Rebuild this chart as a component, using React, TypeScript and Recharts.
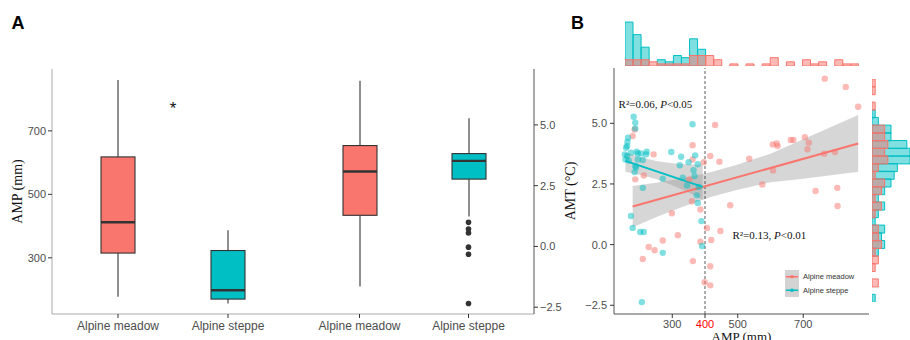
import {
  ComposedChart,
  BarChart,
  Bar,
  Line,
  Area,
  Scatter,
  XAxis,
  YAxis,
  ReferenceLine,
  ReferenceDot,
  Legend,
} from 'recharts'

const groups = ['Alpine meadow', 'Alpine steppe']
const groupColors = ['#F8766D', '#00BFC4']

// panel A, AMP (mm) box stats per group
const ampMin = [177, 156]
const ampQ1 = [315, 170]
const ampMedian = [412, 198]
const ampQ3 = [618, 323]
const ampMax = [860, 387]
const ampBoxTicks = [300, 500, 700]

// panel A, AMT (°C) box stats per group
const amtMin = [-1.65, 1.23]
const amtQ1 = [1.28, 2.77]
const amtMedian = [3.08, 3.52]
const amtQ3 = [4.15, 3.82]
const amtMax = [6.82, 5.27]
const amtOutliers = [[], [0.99, 0.72, 0.55, -0.03, -0.32, -2.35]]
const amtTicks = [-2.5, 0, 2.5, 5]

// panel B, sites
const meadowAmp = [185, 179, 243, 213, 187, 362, 431, 362, 416, 396, 444, 352, 360, 386, 477, 299, 406, 447, 317, 271, 228, 246, 386, 419, 210, 363, 416, 399, 416, 766, 830, 868, 607, 619, 622, 662, 670, 705, 717, 713, 764, 797, 535, 608, 575, 738, 804, 805]
const meadowAmt = [4.75, 4.48, 3.72, 2.85, 2.69, 4.1, 4.93, 3.51, 3.65, 3.4, 3.42, 2.69, 1.79, 1.45, 1.62, 1.29, 0.69, 0.56, 0.39, 0.17, -0.1, -0.23, 0.12, 0.19, -0.59, -0.68, -0.89, -1.55, -1.68, 6.84, 6.5, 5.68, 4.13, 4.17, 4.06, 4.31, 4.31, 4.43, 4.2, 3.93, 3.75, 3.82, 3.54, 3.06, 2.48, 2.21, 2.34, 1.59]
const steppeAmp = [182, 187, 187, 165, 162, 163, 162, 157, 167, 195, 205, 220, 195, 210, 187, 185, 210, 297, 327, 362, 350, 370, 378, 323, 365, 368, 332, 271, 345, 381, 375, 378, 389, 391, 271, 174, 179, 202, 213, 207, 155, 159, 174, 191, 222, 189]
const steppeAmt = [5.27, 5.03, 4.79, 4.41, 4.06, 4.23, 3.65, 3.51, 3.47, 3.76, 3.76, 3.72, 3.51, 3.49, 3.24, 2.99, 2.34, 3.82, 3.62, 4.96, 3.4, 3.68, 3.31, 3.27, 3.07, 2.83, 2.76, 2.71, 2.44, 2.38, 2.03, 1.72, 0.97, -0.06, -0.34, 1.18, 0.69, 0.52, 0.52, -2.37, 3.72, 3.99, 3.79, 3.83, 3.83, 3.18]

// fitted lines and confidence bands
const meadowFitAmp = [179, 868]
const meadowFitAmt = [1.57, 4.17]
const steppeFitAmp = [157, 393]
const steppeFitAmt = [3.45, 2.38]
const meadowBandAmp = [179, 250, 330, 420, 500, 600, 700, 868]
const meadowBandLow = [0.72, 1.13, 1.55, 1.97, 2.26, 2.57, 2.72, 3.0]
const meadowBandHigh = [2.42, 2.55, 2.73, 2.99, 3.3, 3.75, 4.34, 5.34]
const steppeBandAmp = [157, 200, 250, 300, 350, 393]
const steppeBandLow = [3.0, 2.88, 2.7, 2.45, 2.15, 1.85]
const steppeBandHigh = [3.8, 3.62, 3.45, 3.35, 3.3, 3.3]

const ampTicks = [300, 400, 500, 700]
const ampThreshold = 400

// marginal histograms, counts per bin (AMP left to right, AMT top to bottom)
const meadowAmpCounts = [3, 3, 3, 2, 1, 1, 1, 1, 5, 5, 5, 3, 0, 1, 0, 1, 0, 1, 4, 0, 2, 0, 3, 1, 2, 0, 3, 1, 1]
const steppeAmpCounts = [21, 15, 9, 0, 3, 2, 5, 4, 13, 8, 0, 0, 0, 0, 0, 0, 0, 0, 0, 0, 0, 0, 0, 0, 0, 0, 0, 0, 0]
const meadowAmtCounts = [1, 1, 0, 1, 0, 0, 4, 4, 5, 4, 5, 2, 1, 4, 3, 1, 3, 1, 0, 2, 2, 3, 1, 2, 1, 0, 2, 0, 0]
const steppeAmtCounts = [0, 0, 0, 0, 1, 2, 6, 6, 11, 12, 12, 8, 7, 6, 4, 2, 4, 2, 1, 4, 3, 4, 2, 0, 0, 0, 0, 0, 1]

const SANS = '"Liberation Sans", Arial, sans-serif'
const SERIF = '"Liberation Serif", "Times New Roman", serif'
const numTick = { fill: '#4d4d4d', fontSize: 11, fontFamily: SANS }
const catTick = { fill: '#4d4d4d', fontSize: 12, fontFamily: SANS }
const titleProps = { fill: '#111', fontSize: 14, fontFamily: SERIF }

const fmt1 = (v: number) => v.toFixed(1).replace('-', '\u2212')

function boxRows(min: number[], q1: number[], med: number[], q3: number[], max: number[], outliers?: number[][]) {
  return groups.map((name, i) => {
    const row: Record<string, unknown> = {
      name,
      whisker: [min[i], max[i]],
      box: [q1[i], q3[i]],
      median: [med[i], med[i]],
    }
    outliers?.[i]?.forEach((v, k) => (row['o' + k] = v))
    return row
  })
}

function WhiskerShape(p: any) {
  const cx = p.x + p.width / 2
  return <line x1={cx} x2={cx} y1={p.y} y2={p.y + p.height} stroke="#333" strokeWidth={1.1} />
}

function BoxShape(p: any) {
  const y = Math.min(p.y, p.y + p.height)
  const color = groupColors[groups.indexOf(p.payload.name)]
  return <rect x={p.x} y={y} width={p.width} height={Math.abs(p.height)} fill={color} stroke="#333" strokeWidth={1.1} />
}

function MedianShape(p: any) {
  return <line x1={p.x} x2={p.x + p.width} y1={p.y} y2={p.y} stroke="#333" strokeWidth={2.4} />
}

type BoxPanelProps = {
  rows: Record<string, unknown>[]
  side: 'left' | 'right'
  width: number
  domain: [number, number]
  ticks: number[]
  format?: (v: number) => string
  title?: string
  outlierKeys?: string[]
  star?: number
}

function BoxPanel({ rows, side, width, domain, ticks, format, title, outlierKeys = [], star }: BoxPanelProps) {
  const isLeft = side === 'left'
  const pad = { left: 11, right: 11 }
  return (
    <ComposedChart width={width} height={280} data={rows} margin={{ top: 9, right: isLeft ? 6 : 0, left: 0, bottom: 0 }}>
      <XAxis
        xAxisId="main"
        dataKey="name"
        padding={pad}
        height={26}
        tick={catTick}
        tickSize={4}
        tickMargin={3}
        tickLine={{ stroke: '#333' }}
        axisLine={{ stroke: '#aaa' }}
      />
      <XAxis xAxisId="box" dataKey="name" padding={pad} height={0} hide />
      <XAxis xAxisId="mid" dataKey="name" padding={pad} height={0} hide />
      <XAxis xAxisId="top" orientation="top" type="number" domain={[0, 1]} height={0} tick={false} tickLine={false} axisLine={{ stroke: '#555' }} />
      <YAxis
        yAxisId="v"
        orientation={side}
        width={isLeft ? 52 : 30}
        domain={domain}
        allowDataOverflow
        ticks={ticks}
        tickFormatter={format}
        tick={numTick}
        tickSize={4}
        tickMargin={2}
        tickLine={{ stroke: '#333' }}
        axisLine={{ stroke: isLeft ? '#aaa' : '#555' }}
        label={title ? { value: title, angle: -90, position: 'insideLeft', offset: 17.5, textAnchor: 'middle', ...titleProps } : undefined}
      />
      <YAxis
        yAxisId="edge"
        orientation={isLeft ? 'right' : 'left'}
        width={0}
        domain={[0, 1]}
        tick={false}
        tickLine={false}
        axisLine={isLeft ? { stroke: '#444', strokeDasharray: '2 2' } : false}
      />
      <Bar xAxisId="main" yAxisId="v" dataKey="whisker" barSize={34} shape={WhiskerShape} isAnimationActive={false} />
      <Bar xAxisId="box" yAxisId="v" dataKey="box" barSize={34} shape={BoxShape} isAnimationActive={false} />
      <Bar xAxisId="mid" yAxisId="v" dataKey="median" barSize={34} shape={MedianShape} isAnimationActive={false} />
      {outlierKeys.map((k) => (
        <Line
          key={k}
          xAxisId="main"
          yAxisId="v"
          dataKey={k}
          stroke="none"
          dot={{ r: 2.8, fill: '#333', stroke: 'none' }}
          activeDot={false}
          isAnimationActive={false}
        />
      ))}
      {star !== undefined && (
        <ReferenceLine
          xAxisId="main"
          yAxisId="v"
          y={star}
          stroke="none"
          label={{ value: '*', position: 'center', fontSize: 17, fill: '#111', fontFamily: SANS }}
        />
      )}
    </ComposedChart>
  )
}

function ampTick(p: any) {
  const v = p.payload.value
  return (
    <text x={p.x} y={p.y} dy="0.71em" textAnchor="middle" fontSize={11} fontFamily={SANS} fill={v === ampThreshold ? '#ff0000' : '#4d4d4d'}>
      {v}
    </text>
  )
}

function fitNote(r2: string, p: string) {
  return (props: any) => {
    const vb = props.viewBox || {}
    return (
      <text x={vb.x} y={vb.y} fontSize={11} fontFamily={SERIF} fill="#111">
        {`R\u00b2=${r2}, `}
        <tspan fontStyle="italic">P</tspan>
        {`<${p}`}
      </text>
    )
  }
}

function FitLegend() {
  return (
    <svg width={80} height={28}>
      <rect x={0} y={0} width={14} height={27} fill="#d3d3d3" />
      {groups.map((g, i) => (
        <g key={g} transform={`translate(0, ${i * 13.5})`}>
          <line x1={1} x2={13} y1={6.75} y2={6.75} stroke={groupColors[i]} strokeWidth={1.6} />
          <circle cx={7} cy={6.75} r={1.8} fill={groupColors[i]} />
          <text x={18} y={6.75} dy="0.35em" fontSize={7.5} fill="#333" fontFamily={SANS}>
            {g}
          </text>
        </g>
      ))}
    </svg>
  )
}

function dotShape(color: string) {
  return (p: any) => <circle cx={p.cx} cy={p.cy} r={3.2} fill={color} fillOpacity={0.5} />
}

function ScatterPanel() {
  const meadowPts = meadowAmp.map((x, i) => ({ x, y: meadowAmt[i] }))
  const steppePts = steppeAmp.map((x, i) => ({ x, y: steppeAmt[i] }))
  const meadowFit = meadowFitAmp.map((x, i) => ({ x, y: meadowFitAmt[i] }))
  const steppeFit = steppeFitAmp.map((x, i) => ({ x, y: steppeFitAmt[i] }))
  const meadowBand = meadowBandAmp.map((x, i) => ({ x, band: [meadowBandLow[i], meadowBandHigh[i]] }))
  const steppeBand = steppeBandAmp.map((x, i) => ({ x, band: [steppeBandLow[i], steppeBandHigh[i]] }))
  return (
    <ComposedChart width={318} height={290} margin={{ top: 8, right: 4, left: 0, bottom: 0 }}>
      <XAxis
        dataKey="x"
        type="number"
        domain={[122, 901]}
        allowDataOverflow
        ticks={ampTicks}
        tick={ampTick}
        tickSize={4}
        tickMargin={2}
        height={36}
        tickLine={{ stroke: '#333' }}
        axisLine={{ stroke: '#555' }}
        label={{ value: 'AMP (mm)', position: 'insideBottom', offset: 9.5, ...titleProps, fontSize: 13 }}
      />
      <XAxis xAxisId="top" orientation="top" type="number" domain={[0, 1]} height={0} tick={false} tickLine={false} axisLine={{ stroke: '#999' }} />
      <YAxis
        type="number"
        domain={[-2.86, 7.28]}
        allowDataOverflow
        ticks={amtTicks}
        tickFormatter={fmt1}
        tick={numTick}
        tickSize={4}
        tickMargin={3}
        width={59}
        tickLine={{ stroke: '#333' }}
        axisLine={{ stroke: '#555' }}
        label={{ value: 'AMT (\u00b0C)', angle: -90, position: 'insideLeft', offset: 15, textAnchor: 'middle', ...titleProps }}
      />
      <YAxis yAxisId="r" orientation="right" width={0} domain={[0, 1]} tick={false} tickLine={false} axisLine={{ stroke: '#555' }} />
      <Scatter data={meadowPts} dataKey="y" shape={dotShape(groupColors[0])} isAnimationActive={false} />
      <Scatter data={steppePts} dataKey="y" shape={dotShape(groupColors[1])} isAnimationActive={false} />
      <ReferenceLine x={ampThreshold} stroke="#333" strokeWidth={0.8} strokeDasharray="3 2" />
      <Area data={meadowBand} dataKey="band" type="linear" fill="#999" fillOpacity={0.4} stroke="none" dot={false} activeDot={false} isAnimationActive={false} />
      <Area data={steppeBand} dataKey="band" type="linear" fill="#999" fillOpacity={0.4} stroke="none" dot={false} activeDot={false} isAnimationActive={false} />
      <Line data={meadowFit} dataKey="y" type="linear" stroke={groupColors[0]} strokeWidth={2} dot={false} activeDot={false} isAnimationActive={false} />
      <Line data={steppeFit} dataKey="y" type="linear" stroke={groupColors[1]} strokeWidth={2} dot={false} activeDot={false} isAnimationActive={false} />
      <ReferenceDot x={136} y={5.63} r={0} stroke="none" label={fitNote('0.06', '0.05')} />
      <ReferenceDot x={484} y={0.23} r={0} stroke="none" label={fitNote('0.13', '0.01')} />
      <Legend content={FitLegend} layout="vertical" align="center" verticalAlign="middle" wrapperStyle={{ left: 230, top: 210, width: 80 }} />
    </ComposedChart>
  )
}

function TopHistogram() {
  const rows = meadowAmpCounts.map((m, i) => ({ bin: i, meadow: m, steppe: steppeAmpCounts[i] }))
  return (
    <BarChart width={234} height={46} data={rows} barCategoryGap={0} margin={{ top: 0, right: 0, left: 0, bottom: 0 }}>
      <XAxis xAxisId="s" dataKey="bin" height={0} hide />
      <XAxis xAxisId="m" dataKey="bin" height={0} hide />
      <YAxis hide domain={[0, 22]} allowDataOverflow />
      <Bar xAxisId="s" dataKey="steppe" fill={groupColors[1]} fillOpacity={0.5} stroke={groupColors[1]} strokeWidth={1} isAnimationActive={false} />
      <Bar xAxisId="m" dataKey="meadow" fill={groupColors[0]} fillOpacity={0.5} stroke={groupColors[0]} strokeWidth={1} isAnimationActive={false} />
    </BarChart>
  )
}

function SideHistogram() {
  const rows = meadowAmtCounts.map((m, i) => ({ bin: i, meadow: m, steppe: steppeAmtCounts[i] }))
  return (
    <BarChart layout="vertical" width={38} height={223} data={rows} barCategoryGap={0} margin={{ top: 0, right: 0, left: 0, bottom: 0 }}>
      <XAxis type="number" hide domain={[0, 12]} allowDataOverflow />
      <YAxis yAxisId="s" type="category" dataKey="bin" width={0} hide />
      <YAxis yAxisId="m" type="category" dataKey="bin" width={0} hide />
      <Bar yAxisId="s" dataKey="steppe" fill={groupColors[1]} fillOpacity={0.5} stroke={groupColors[1]} strokeWidth={1} isAnimationActive={false} />
      <Bar yAxisId="m" dataKey="meadow" fill={groupColors[0]} fillOpacity={0.5} stroke={groupColors[0]} strokeWidth={1} isAnimationActive={false} />
    </BarChart>
  )
}

export default function App() {
  const ampRows = boxRows(ampMin, ampQ1, ampMedian, ampQ3, ampMax)
  const amtRows = boxRows(amtMin, amtQ1, amtMedian, amtQ3, amtMax, amtOutliers)
  const outlierKeys = amtOutliers[1].map((_, k) => 'o' + k)
  return (
    <div style={{ position: 'absolute', left: 0, top: 0, width: 910, height: 340, background: '#fff', overflow: 'hidden' }}>
      <svg width={910} height={340} style={{ position: 'absolute', left: 0, top: 0 }}>
        <text x={11.5} y={29.3} fontSize={18} fontWeight="bold" fontFamily={SANS} fill="#000">A</text>
        <text x={571} y={29.3} fontSize={18} fontWeight="bold" fontFamily={SANS} fill="#000">B</text>
      </svg>
      <div style={{ position: 'absolute', left: 0, top: 60 }}>
        <BoxPanel rows={ampRows} side="left" width={300} domain={[123, 895]} ticks={ampBoxTicks} title="AMP (mm)" star={772} />
      </div>
      <div style={{ position: 'absolute', left: 294, top: 60 }}>
        <BoxPanel rows={amtRows} side="right" width={270} domain={[-2.78, 7.3]} ticks={amtTicks} format={fmt1} outlierKeys={outlierKeys} />
      </div>
      <div style={{ position: 'absolute', left: 555, top: 60 }}>
        <ScatterPanel />
      </div>
      <div style={{ position: 'absolute', left: 625, top: 20 }}>
        <TopHistogram />
      </div>
      <div style={{ position: 'absolute', left: 872, top: 78.5 }}>
        <SideHistogram />
      </div>
    </div>
  )
}
